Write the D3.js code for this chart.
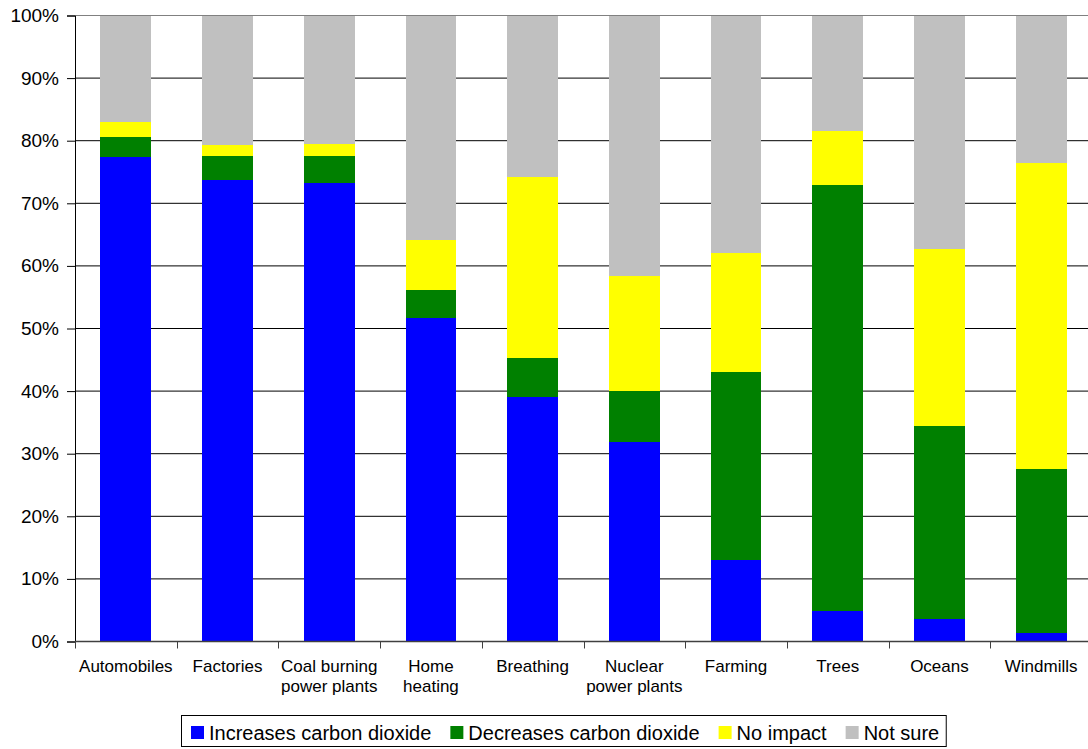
<!DOCTYPE html>
<html>
<head>
<meta charset="utf-8">
<script src="https://cdn.jsdelivr.net/npm/d3@7"></script>
<style>
  html, body { margin: 0; padding: 0; background: #fff; }
  svg { display: block; font-family: "Liberation Sans", Arial, sans-serif; }
</style>
</head>
<body>
<svg id="chart" width="1088" height="749"></svg>
<script>
// Survey categories (x axis); "\n" splits a label onto two lines
const categories = [
  "Automobiles", "Factories", "Coal burning\npower plants", "Home\nheating",
  "Breathing", "Nuclear\npower plants", "Farming", "Trees", "Oceans", "Windmills"
];

// Share of responses per category, in percent
const increases = [77.4, 73.7, 73.2, 51.7, 39.1, 31.9, 13.0, 4.9, 3.6, 1.4];
const decreases = [3.2, 3.9, 4.4, 4.5, 6.2, 8.1, 30.1, 68.0, 30.8, 26.2];
const noImpact  = [2.4, 1.7, 1.9, 7.9, 28.9, 18.4, 19.0, 8.6, 28.3, 48.8];
const notSure   = [17.0, 20.7, 20.5, 35.9, 25.8, 41.6, 37.9, 18.5, 37.3, 23.6];

const seriesNames = ["Increases carbon dioxide", "Decreases carbon dioxide", "No impact", "Not sure"];
const seriesColors = ["#0000ff", "#008000", "#ffff00", "#c0c0c0"];
const yTicks = [0, 10, 20, 30, 40, 50, 60, 70, 80, 90, 100];

const svg = d3.select("#chart");

const plot = { left: 75, right: 1092, top: 15.5, bottom: 641.5 };

const x = d3.scaleBand()
  .domain(categories)
  .range([plot.left, plot.right])
  .paddingInner(0.5)
  .paddingOuter(0.25);

const y = d3.scaleLinear().domain([0, 100]).range([plot.bottom, plot.top]);

// Horizontal gridlines
svg.append("g")
  .selectAll("line")
  .data(yTicks.filter(t => t > 0))
  .join("line")
  .attr("x1", plot.left).attr("x2", plot.right)
  .attr("y1", d => y(d)).attr("y2", d => y(d))
  .attr("stroke", d => d === 100 ? "#808080" : "#000")
  .attr("stroke-width", 1);

// Stacked bars
const rows = categories.map((c, i) => ({
  cat: c,
  s0: increases[i], s1: decreases[i], s2: noImpact[i], s3: notSure[i]
}));
const stack = d3.stack().keys(["s0", "s1", "s2", "s3"]);
const layers = stack(rows);

svg.append("g")
  .selectAll("g")
  .data(layers)
  .join("g")
  .attr("fill", (d, i) => seriesColors[i])
  .selectAll("rect")
  .data(d => d)
  .join("rect")
  .attr("x", d => x(d.data.cat))
  .attr("width", x.bandwidth())
  .attr("y", d => y(Math.min(d[1], 100)))
  .attr("height", d => y(d[0]) - y(Math.min(d[1], 100)))
  .attr("shape-rendering", "crispEdges");

// Y axis
const yAxis = d3.axisLeft(y)
  .tickValues(yTicks)
  .tickFormat(d => d + "%")
  .tickSize(8)
  .tickPadding(8);

const gy = svg.append("g")
  .attr("transform", `translate(${plot.left},0)`)
  .call(yAxis);
gy.select(".domain").attr("stroke", "#000");
gy.selectAll(".tick line").attr("stroke", "#000");
gy.selectAll(".tick text")
  .attr("fill", "#000")
  .style("font-size", "19px")
  .style("font-family", "'Liberation Sans', Arial, sans-serif");

// X axis: tick marks at category boundaries
const step = x.step();
const boundaries = d3.range(categories.length + 1).map(i => plot.left + i * step);
svg.append("line")
  .attr("x1", plot.left).attr("x2", plot.right)
  .attr("y1", plot.bottom).attr("y2", plot.bottom)
  .attr("stroke", "#404040").attr("stroke-width", 1.5);
svg.append("g")
  .selectAll("line")
  .data(boundaries)
  .join("line")
  .attr("x1", d => Math.round(d) + 0.5).attr("x2", d => Math.round(d) + 0.5)
  .attr("y1", plot.bottom).attr("y2", plot.bottom + 7)
  .attr("stroke", "#404040");

// X category labels
const labels = svg.append("g")
  .selectAll("text")
  .data(categories)
  .join("text")
  .attr("x", d => x(d) + x.bandwidth() / 2)
  .attr("y", 672)
  .attr("text-anchor", "middle")
  .attr("fill", "#000")
  .style("font-size", "17px");
labels.each(function (d) {
  const t = d3.select(this);
  d.split("\n").forEach((line, i) => {
    t.append("tspan")
      .attr("x", x(d) + x.bandwidth() / 2)
      .attr("dy", i === 0 ? 0 : 20)
      .text(line);
  });
});

// Legend
const legend = svg.append("g");
const legendBox = legend.append("rect")
  .attr("fill", "#fff").attr("stroke", "#000").attr("stroke-width", 1);
let lx = 191;
const items = [];
seriesNames.forEach((name, i) => {
  legend.append("rect")
    .attr("x", lx).attr("y", 726)
    .attr("width", 13).attr("height", 13)
    .attr("fill", seriesColors[i]);
  const txt = legend.append("text")
    .attr("x", lx + 18).attr("y", 739.5)
    .attr("fill", "#000")
    .style("font-size", "20px")
    .text(name);
  const w = txt.node().getComputedTextLength();
  lx = lx + 18 + w + 19;
});
const legendRight = lx - 19 + 7;
legendBox
  .attr("x", 181.5).attr("y", 715.5)
  .attr("width", legendRight - 181.5)
  .attr("height", 31);
</script>
</body>
</html>
